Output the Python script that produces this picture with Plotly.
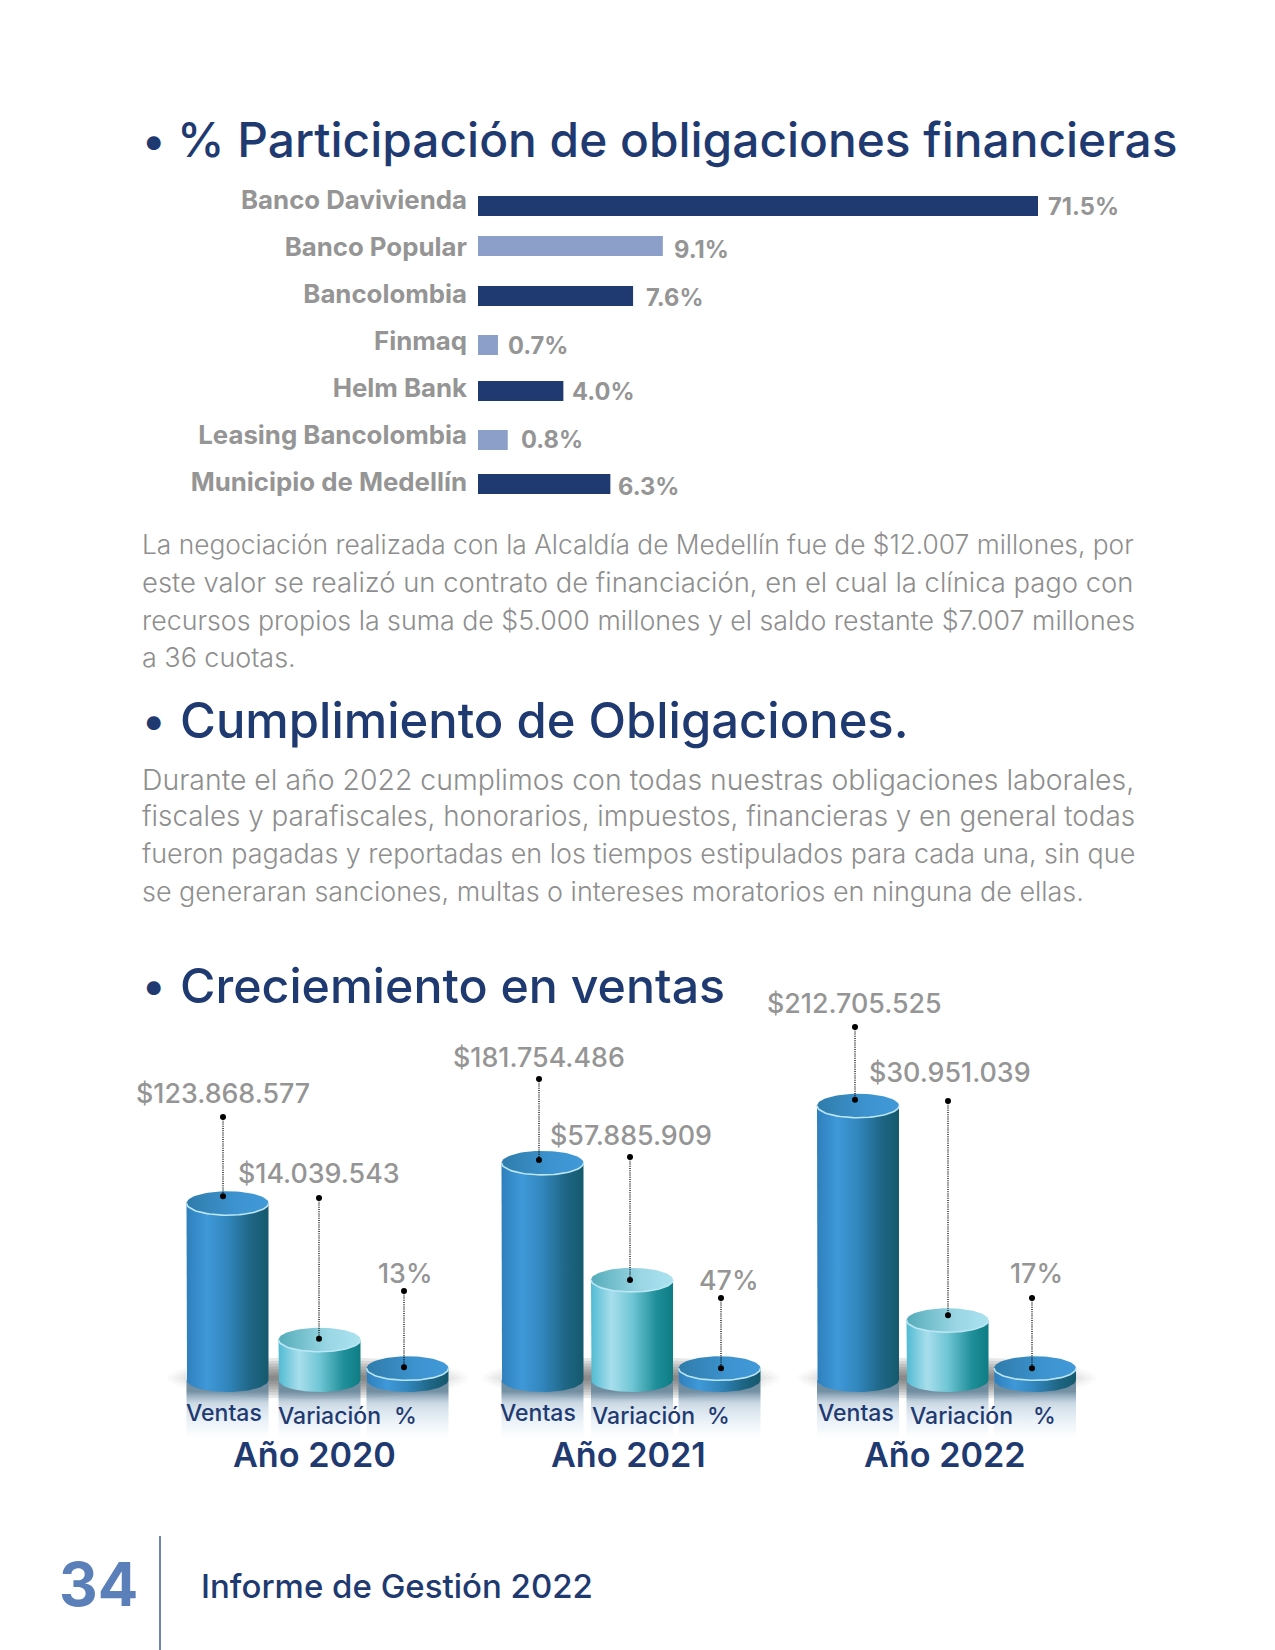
import numpy as np
import plotly.graph_objects as go

# ---------- data ----------
banks = ["Banco Davivienda", "Banco Popular", "Bancolombia", "Finmaq", "Helm Bank",
         "Leasing Bancolombia", "Municipio de Medellín"]
bank_labels = ["71.5%", "9.1%", "7.6%", "0.7%", "4.0%", "0.8%", "6.3%"]
# The printed bars are not proportional to their printed labels: these are the lengths as drawn.
bank_drawn_len = [71.5, 23.6, 19.8, 2.55, 10.9, 3.8, 16.9]
bank_colors = ["#1F3A70", "#8C9FC8", "#1F3A70", "#8C9FC8", "#1F3A70", "#8C9FC8", "#1F3A70"]

years = ["Año 2020", "Año 2021", "Año 2022"]
series_names = ["Ventas", "Variación", "%"]
value_labels = [["$123.868.577", "$14.039.543", "13%"],
                ["$181.754.486", "$57.885.909", "47%"],
                ["$212.705.525", "$30.951.039", "17%"]]
# Cylinder heights as drawn in the picture (also not proportional to the labels)
ventas_drawn = [136, 167, 211]
variacion_drawn = [31, 77, 46]
pct_drawn = [9, 9, 9]

titles = ["% Participación de obligaciones financieras", "Cumplimiento de Obligaciones.", "Creciemiento en ventas"]
para1 = ["La negociación realizada con la Alcaldía de Medellín fue de $12.007 millones, por",
         "este valor se realizó un contrato de financiación, en el cual la clínica pago con",
         "recursos propios la suma de $5.000 millones y el saldo restante $7.007 millones",
         "a 36 cuotas."]
para2 = ["Durante el año 2022 cumplimos con todas nuestras obligaciones laborales,",
         "fiscales y parafiscales, honorarios, impuestos, financieras y en general todas",
         "fueron pagadas y reportadas en los tiempos estipulados para cada una, sin que",
         "se generaran sanciones, multas o intereses moratorios en ninguna de ellas."]

# ---------- layout constants (page pixels) ----------
W, H = 1275, 1650
OFF = 8  # the page body margin
NAVY, GREY = "#1F3A70", "#959595"
FONT = "Inter"
BAR_X0, BAR_X1 = 478, 1038
bar_rows = [206, 246, 296, 345, 391, 440, 484]
tick_rows = [200, 247, 294, 341, 388, 435, 482]
label_rows = [206, 249, 297, 345, 391, 439, 486]
label_shift = [8, 9, 11, 8, 7, 11, 6]
BASE = 1380
PXU = 1.3
RX, RY = 41, 12
cyl_x = [[227.5, 319.5, 407.5], [542.5, 632, 719.5], [858, 947.5, 1035]]
label_x = [[223, 319, 405], [539, 631, 729], [854, 950, 1036]]
label_y = [[1093, 1173, 1273], [1057, 1135, 1280], [1003, 1072, 1273]]
lead_x = [[223, 319, 404], [539, 630, 721], [855, 948, 1032]]
lead_top = [[1117, 1198, 1291], [1079, 1157, 1298], [1027, 1101, 1298]]
lead_drop = [[7, 1, 1], [3, 0, 0], [6, 5, 0]]
sub_x = [[224, 329, 405], [538, 643, 718], [856, 961, 1044]]
sub_y = [1413, 1416, 1416]
year_x = [314, 628, 945]
title_x = [175, 178, 178]
title_sizes = [47.85, 48.95, 48.3]
para1_sizes = [26.3, 27.4, 26.75, 26.9]
para2_sizes = [28.4, 27.8, 26.9, 26.9]

px = lambda p: (p - OFF) / W
py = lambda p: 1 - (p - OFF) / H
yu = lambda p: (BASE - p) / PXU  # page y -> cylinder axis units


def scale(stops):
    return [[s, c] for s, c in stops]


BLUE_BODY = scale([(0, "#2E80BC"), (.25, "#3F98D8"), (.5, "#3186BC"), (.78, "#1F6686"), (1, "#14596C")])
BLUE_TOP = scale([(0, "#2F7CAB"), (.6, "#3C93CF"), (1, "#4199D8")])
AQUA_BODY = scale([(0, "#50BBD2"), (.25, "#A8DEEC"), (.5, "#70C6D5"), (.8, "#1E8E98"), (1, "#0E7C84")])
AQUA_TOP = scale([(0, "#55ACBA"), (.6, "#9AD6E4"), (1, "#ABE2F0")])

fig = go.Figure()
common = dict(xaxis="x2", yaxis="y2", hoverinfo="skip", showlegend=False)

# ---------- bars ----------
fig.add_trace(go.Bar(x=bank_drawn_len, y=bar_rows, orientation="h", width=20,
                     marker=dict(color=bank_colors, line=dict(width=0)), hoverinfo="skip", showlegend=False))

# ---------- cylinders ----------
t = np.linspace(0, np.pi, 40)
a = np.linspace(0, 2 * np.pi, 80)


def poly(xs, ys, grad, gtype="horizontal"):
    fig.add_trace(go.Scatter(x=xs, y=ys, mode="lines", line=dict(width=0), fill="toself",
                             fillcolor="rgba(0,0,0,0)",
                             fillgradient=dict(type=gtype, colorscale=grad), **common))


# shadows and reflections first
for g, xs in enumerate(cyl_x):
    c = (xs[0] + xs[2]) / 2
    half = (xs[2] - xs[0]) / 2 + RX + 22
    for ry in [21, 18, 15, 12, 9, 6, 3]:
        al = .10
        poly(c + half * np.cos(a), (2 + ry * np.sin(a)) / PXU,
             scale([(0, "rgba(30,30,30,0)"), (.13, f"rgba(30,30,30,{al / 3})"), (.27, f"rgba(30,30,30,{al})"),
                    (.73, f"rgba(30,30,30,{al})"), (.87, f"rgba(30,30,30,{al / 3})"), (1, "rgba(30,30,30,0)")]))
    for x in xs:
        poly([x - RX, x + RX, x + RX, x - RX, x - RX], [yu(BASE), yu(BASE), yu(1438), yu(1438), yu(BASE)],
             scale([(0, "rgba(170,200,225,0)"), (.3, "rgba(170,200,225,.25)"), (.6, "rgba(140,170,195,.45)"),
                    (.8, "rgba(110,140,160,.95)"), (1, "rgba(110,140,160,1)")]), "vertical")

for g in range(3):
    for s, heights in enumerate([ventas_drawn, variacion_drawn, pct_drawn]):
        x, h = cyl_x[g][s], heights[g]
        body, top = (AQUA_BODY, AQUA_TOP) if s == 1 else (BLUE_BODY, BLUE_TOP)
        # body: down the left side, along the lower arc, up the right side
        poly(np.r_[x - RX, x + RX * np.cos(t[::-1]), x + RX, x - RX],
             np.r_[h, -RY * np.sin(t[::-1]) / PXU, h, h], body)
        poly(x + RX * np.cos(a), h + RY * np.sin(a) / PXU, top)
        fig.add_trace(go.Scatter(x=x + RX * np.cos(t), y=h - RY * np.sin(t) / PXU, mode="lines",
                                 line=dict(color="#BCE6F4", width=1.6), **common))

# ---------- leaders ----------
for g in range(3):
    for s, heights in enumerate([ventas_drawn, variacion_drawn, pct_drawn]):
        h = heights[g] + (lead_drop[g][s]) / PXU
        fig.add_trace(go.Scatter(x=[lead_x[g][s]] * 2, y=[yu(lead_top[g][s]), h], mode="lines",
                                 line=dict(color="#111111", width=1.4, dash="1px,1.2px"), **common))
        fig.add_trace(go.Scatter(x=[lead_x[g][s]] * 2, y=[yu(lead_top[g][s]), h], mode="markers",
                                 marker=dict(color="#000000", size=6), **common))

# ---------- text ----------
ann = []


def txt(x, y, s, size, color, anchor="left", weight=400):
    ann.append(dict(x=px(x), y=py(y), xref="paper", yref="paper", text=s, showarrow=False, xanchor=anchor,
                    yanchor="middle", font=dict(family=FONT, size=size, color=color, weight=weight)))


for s, y, fs, tx in zip(titles, [140, 720, 985], title_sizes, title_x):
    txt(153, y, "•", 44, NAVY, "center", 500)
    txt(tx, y, s, fs, NAVY, "left", 500)
for lines, rows, sizes in [(para1, [544, 582, 620, 657], para1_sizes), (para2, [779, 816, 853, 891], para2_sizes)]:
    for s, y, fs in zip(lines, rows, sizes):
        txt(140, y, s, fs, "#8E8E8E", "left", 300)
for g in range(3):
    for s in range(3):
        txt(label_x[g][s], label_y[g][s], value_labels[g][s], 26.8, GREY, "center", 500)
        txt(sub_x[g][s], sub_y[s], series_names[s], 23, NAVY, "center", 500)
    txt(year_x[g], 1454, years[g], 34.2, NAVY, "center", 600)
txt(98, 1584, "34", 60, "#5B7FB8", "center", 700)
txt(199, 1586, "Informe de Gestión 2022", 33, NAVY, "left", 500)

# bar value labels go through the bar axes
for v, lab, y, sh in zip(bank_drawn_len, bank_labels, label_rows, label_shift):
    ann.append(dict(x=v, y=y, xref="x", yref="y", text=lab, showarrow=False, xanchor="left", xshift=sh,
                    font=dict(family=FONT, size=23.7, color=GREY, weight=700)))

fig.update_layout(
    width=W, height=H, autosize=False, margin=dict(l=0, r=0, t=0, b=0), paper_bgcolor="white",
    plot_bgcolor="rgba(0,0,0,0)", showlegend=False, annotations=ann,
    shapes=[dict(type="line", xref="paper", yref="paper", x0=px(160), x1=px(160), y0=py(1536), y1=0,
                 line=dict(color="#6E84A8", width=2))],
    xaxis=dict(domain=[px(BAR_X0), px(BAR_X1)], range=[0, 71.5], visible=False, fixedrange=True),
    yaxis=dict(domain=[0, 1], range=[H + OFF, OFF], anchor="x", tickmode="array", tickvals=tick_rows, ticktext=banks,
               ticks="", showgrid=False, zeroline=False, showline=False, ticklabelstandoff=10,
               tickfont=dict(family=FONT, size=25.8, color=GREY, weight=700), fixedrange=True),
    xaxis2=dict(domain=[0, 1], range=[OFF, W + OFF], visible=False, anchor="y2", fixedrange=True),
    yaxis2=dict(domain=[0, 1], range=[yu(H + OFF), yu(OFF)], visible=False, anchor="x2", fixedrange=True),
)
fig.write_html("out.html")
